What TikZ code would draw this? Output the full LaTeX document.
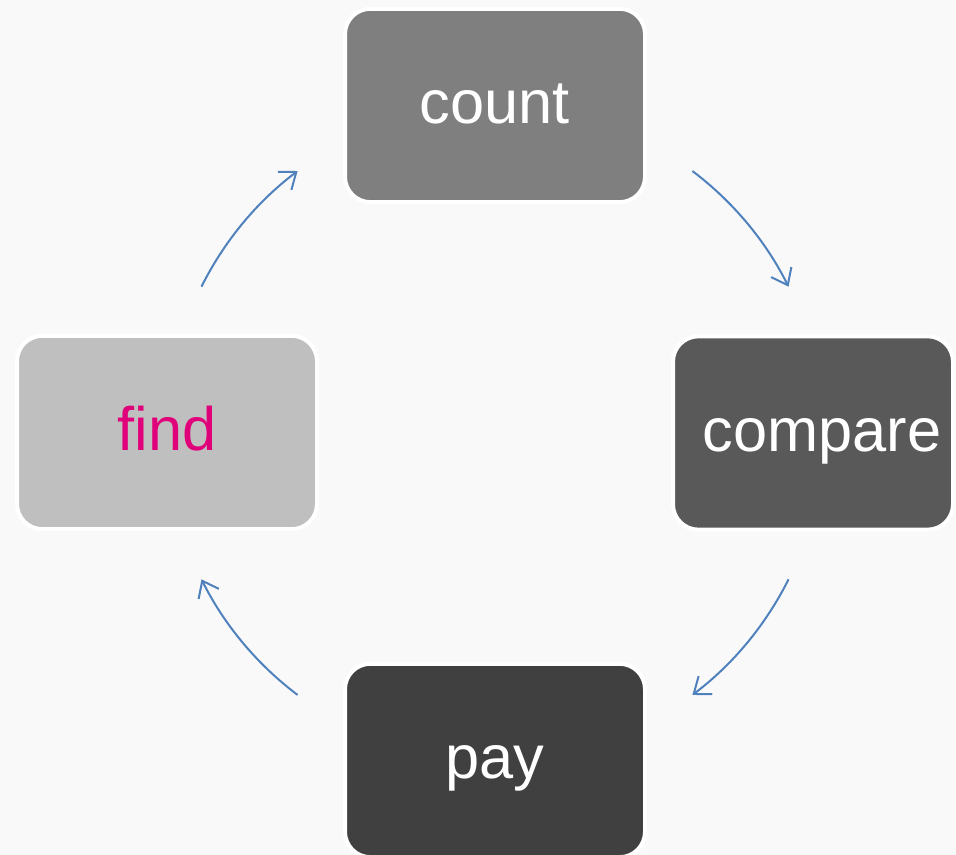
\documentclass[tikz,border=0pt]{standalone}
\usepackage{fontspec}
\setmainfont{Liberation Sans}
\usetikzlibrary{arrows.meta}
\definecolor{bgc}{HTML}{F9F9FA}
\definecolor{countc}{HTML}{7F7F7F}
\definecolor{comparec}{HTML}{595959}
\definecolor{payc}{HTML}{404040}
\definecolor{findc}{HTML}{BFBFBF}
\definecolor{findtxt}{RGB}{224,0,122}
\definecolor{arrc}{HTML}{4F81BD}
\tikzset{
  box/.style={draw=white, line width=3pt, rounded corners=19pt,
    minimum width=225pt, minimum height=145pt, inner sep=0pt,
    text height=27.5pt, text depth=0pt, text=white,
    font=\fontsize{46}{52}\selectfont},
  arr/.style={draw=arrc, line width=1.5pt,
    -{Straight Barb[length=11pt,width=17pt,line width=1.5pt]}}
}
\begin{document}
\begin{tikzpicture}[x=0.75pt,y=0.75pt]
\fill[bgc] (0,0) rectangle (956,855);
\useasboundingbox (0,0) rectangle (956,855);
\node[box, fill=countc] (count) at (495,749.5) {count};
\node[box, fill=comparec, minimum width=210pt] (compare) at (813,422) {\hspace*{13.5pt}compare};
\node[box, fill=payc] (pay) at (495,94.5) {pay};
\node[box, fill=findc, text=findtxt] (find) at (167,422.5) {find};
\coordinate (a1s) at ({495+328*cos(153.5)},{422+328*sin(153.5)});
\coordinate (a2s) at ({495+328*cos(53)},{422+328*sin(53)});
\coordinate (a3s) at ({495+328*cos(-26.5)},{422+328*sin(-26.5)});
\coordinate (a4s) at ({495+328*cos(-127)},{422+328*sin(-127)});
\draw[arr] (a1s) arc[start angle=153.5, end angle=127, radius=246pt];
\draw[arr] (a2s) arc[start angle=53, end angle=26.5, radius=246pt];
\draw[arr] (a3s) arc[start angle=-26.5, end angle=-53, radius=246pt];
\draw[arr] (a4s) arc[start angle=-127, end angle=-153.5, radius=246pt];
\end{tikzpicture}
\end{document}
